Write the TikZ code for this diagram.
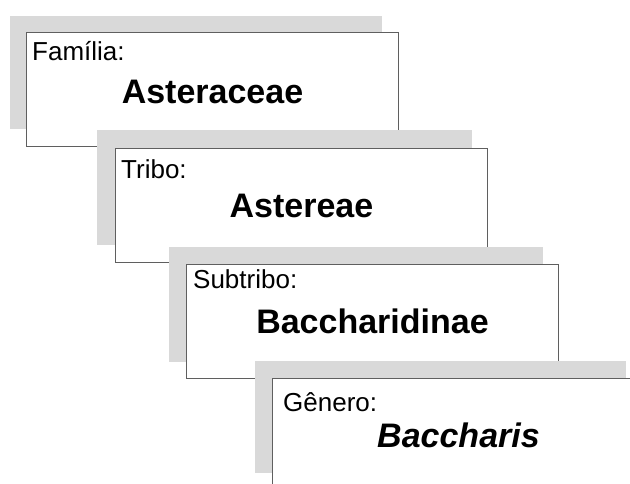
\documentclass[tikz,border=0pt]{standalone}
\usepackage{fontspec}
\setmainfont{Liberation Sans}
\usetikzlibrary{calc}
\definecolor{cardline}{HTML}{5F5F5F}
\definecolor{shadowgray}{HTML}{D9D9D9}
\tikzset{
  card/.style={draw=cardline, line width=1pt, fill=white, inner sep=0pt,
    minimum width=372pt, minimum height=114pt, anchor=north west},
  shadowbox/.style={fill=shadowgray},
  ranklabel/.style={anchor=base west, inner sep=0pt, font=\fontsize{26}{30}\selectfont},
  taxon/.style={anchor=base, inner sep=0pt, font=\fontsize{34}{40}\selectfont\bfseries},
}
\begin{document}
\begin{tikzpicture}[x=1pt, y=-1pt]
  \clip (0,0) rectangle (630,483);
  \fill[white] (0,0) rectangle (630,483);

  % Família
  \fill[shadowbox] (10,16) rectangle +(372,113);
  \node[card] (b1) at (26,32) {};
  \node[ranklabel] (l1) at ($(b1.north west)+(6,28)$) {Família:};
  \node[taxon] (t1) at ($(b1.north)+(0,71)$) {Asteraceae};

  % Tribo
  \fill[shadowbox] (97,130) rectangle +(375,115);
  \node[card] (b2) at (115,148) {};
  \node[ranklabel] (l2) at ($(b2.north west)+(6,30)$) {Tribo:};
  \node[taxon] (t2) at ($(b2.north)+(0,69)$) {Astereae};

  % Subtribo
  \fill[shadowbox] (169,247) rectangle +(374,115);
  \node[card] (b3) at (186,264) {};
  \node[ranklabel] (l3) at ($(b3.north west)+(7,24)$) {Subtribo:};
  \node[taxon] (t3) at ($(b3.north)+(0,69)$) {Baccharidinae};

  % Gênero
  \fill[shadowbox] (255,361) rectangle +(371,112);
  \node[card] (b4) at (272,378) {};
  \node[ranklabel] (l4) at ($(b4.north west)+(11,33)$) {Gênero:};
  \node[taxon] (t4) at ($(b4.north)+(0,69)$) {\itshape Baccharis};
\end{tikzpicture}
\end{document}
